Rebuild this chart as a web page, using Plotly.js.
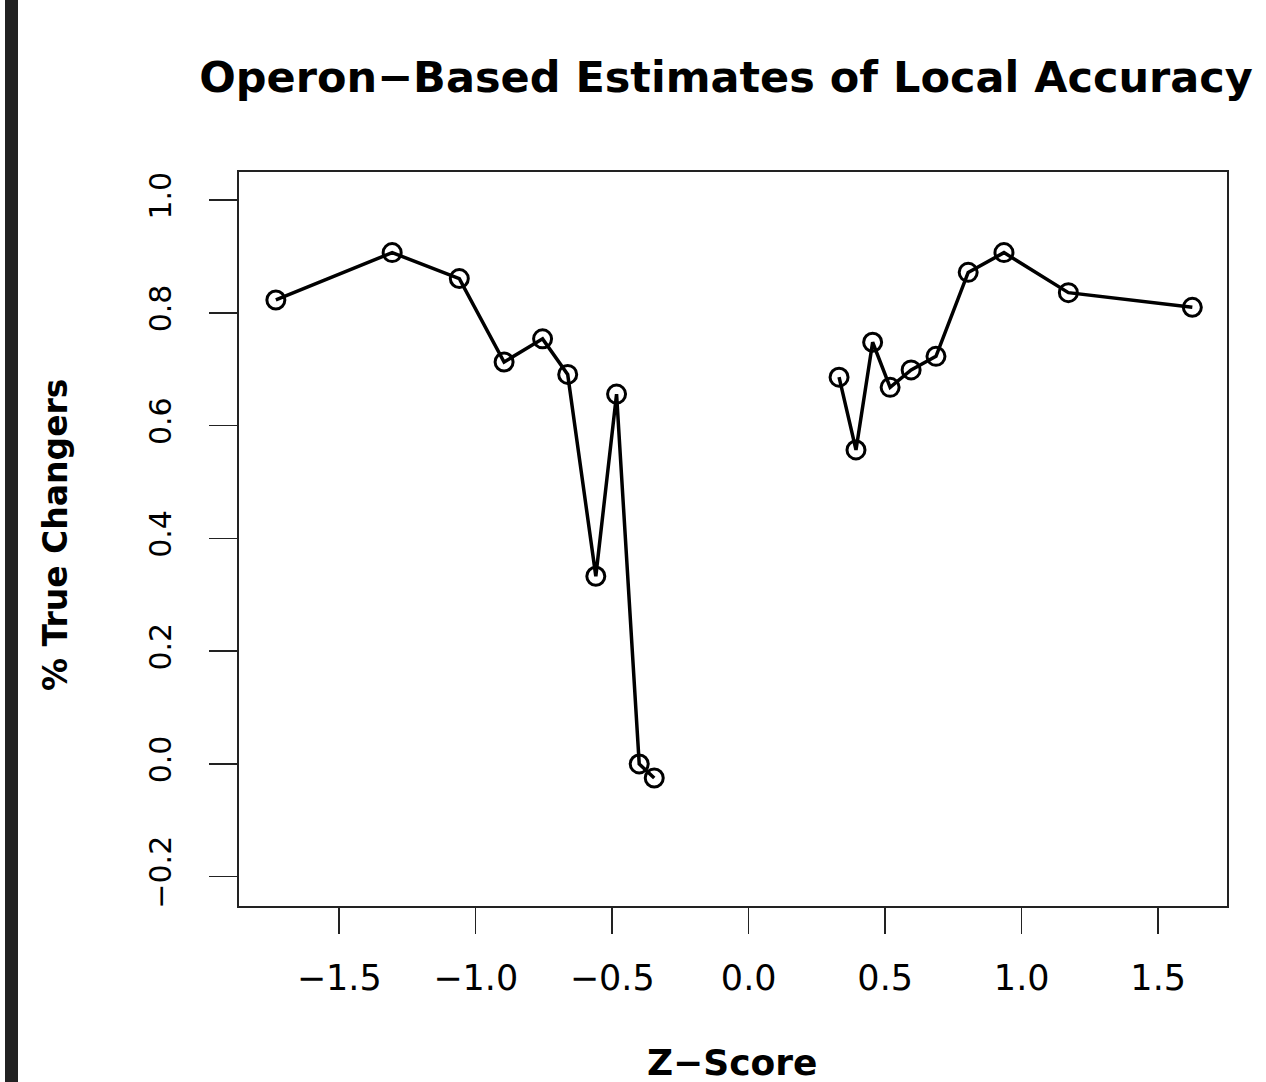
<!DOCTYPE html>
<html>
<head>
<meta charset="utf-8">
<script src="https://cdn.plot.ly/plotly-3.0.1.min.js"></script>
<style>
html,body{margin:0;padding:0;background:#fff;}
#chart{width:1266px;height:1082px;}
</style>
</head>
<body>
<div id="chart"></div>
<script>
// Z-score (x) and % true changers (y); null marks the gap between the two branches
const zScores = [-1.732, -1.306, -1.060, -0.896, -0.755, -0.663, -0.560, -0.484, -0.401, -0.346,
                 null,
                 0.331, 0.393, 0.454, 0.518, 0.595, 0.686, 0.804, 0.935, 1.171, 1.625];
const trueChangers = [0.823, 0.907, 0.861, 0.713, 0.754, 0.691, 0.333, 0.656, 0.000, -0.025,
                      null,
                      0.686, 0.557, 0.748, 0.668, 0.699, 0.723, 0.872, 0.907, 0.836, 0.810];
const xTicks = [-1.5, -1.0, -0.5, 0.0, 0.5, 1.0, 1.5];
const xTickText = ["\u22121.5", "\u22121.0", "\u22120.5", "0.0", "0.5", "1.0", "1.5"];
const yTicks = [-0.2, 0.0, 0.2, 0.4, 0.6, 0.8, 1.0];
const yTickText = ["\u22120.2", "0.0", "0.2", "0.4", "0.6", "0.8", "1.0"];
const titleText = "Operon\u2212Based Estimates of Local Accuracy";
const xTitle = "Z\u2212Score";
const yTitle = "% True Changers";

const FONT = "DejaVu Sans, Liberation Sans, Arial, sans-serif";
const INK = "#000";

const trace = {
  x: zScores, y: trueChangers,
  type: "scatter", mode: "lines+markers",
  connectgaps: false,
  line: {color: INK, width: 3.5},
  marker: {symbol: "circle-open", size: 18, color: INK, line: {color: INK, width: 3}},
  hoverinfo: "skip"
};

const layout = {
  width: 1266, height: 1082,
  margin: {l: 239, r: 39, t: 172, b: 176},
  paper_bgcolor: "#fff", plot_bgcolor: "#fff",
  showlegend: false,
  title: {
    text: "<b>" + titleText + "</b>",
    font: {family: FONT, size: 43, color: INK},
    xref: "container", yref: "container",
    x: 726/1266, xanchor: "center",
    y: 1 - 77/1082, yanchor: "middle"
  },
  xaxis: {
    range: [-1.867, 1.752],
    tickvals: xTicks, ticktext: xTickText,
    ticks: "outside", ticklen: 26, tickwidth: 1.5, tickcolor: "#222",
    ticklabelstandoff: 14,
    tickfont: {family: FONT, size: 35, color: INK},
    showline: true, mirror: true, linecolor: "#222", linewidth: 2,
    showgrid: false, zeroline: false, fixedrange: true
  },
  yaxis: {
    range: [-0.252, 1.050],
    tickvals: yTicks, ticktext: yTickText,
    tickangle: -90,
    ticks: "outside", ticklen: 28, tickwidth: 1.5, tickcolor: "#222",
    ticklabelstandoff: 26,
    tickfont: {family: FONT, size: 30, color: INK},
    showline: true, mirror: true, linecolor: "#222", linewidth: 2,
    showgrid: false, zeroline: false, fixedrange: true
  },
  annotations: [
    {
      text: "<b>" + xTitle + "</b>",
      xref: "paper", yref: "paper",
      x: (732 - 239) / 988, y: (906 - 1062) / 734,
      xanchor: "center", yanchor: "middle",
      showarrow: false,
      font: {family: FONT, size: 36, color: INK}
    },
    {
      text: "<b>" + yTitle + "</b>",
      xref: "paper", yref: "paper",
      x: (55 - 239) / 988, y: (906 - 535) / 734,
      xanchor: "center", yanchor: "middle",
      textangle: -90,
      showarrow: false,
      font: {family: FONT, size: 33, color: INK}
    }
  ],
  shapes: [
    {
      type: "rect", xref: "paper", yref: "paper",
      x0: (5 - 239) / 988, x1: (18 - 239) / 988,
      y0: (906 - 1090) / 734, y1: (906 + 10) / 734,
      fillcolor: "#222", line: {width: 0}, layer: "above"
    }
  ]
};

Plotly.newPlot("chart", [trace], layout, {displayModeBar: false, staticPlot: true});
</script>
</body>
</html>
